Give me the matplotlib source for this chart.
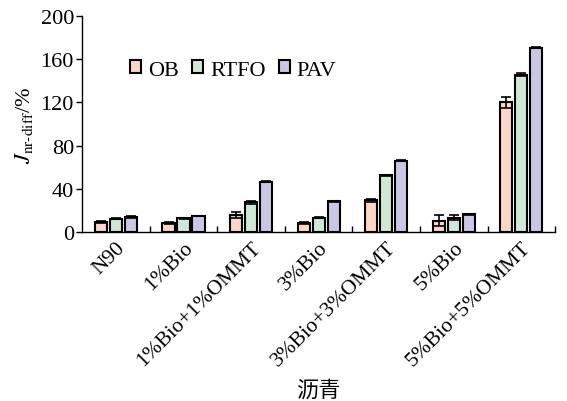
import matplotlib
matplotlib.use('Agg')
import matplotlib.pyplot as plt
import numpy as np

plt.rcParams['font.family'] = ['Liberation Serif', 'Noto Sans CJK SC']
plt.rcParams['mathtext.fontset'] = 'stix'

# data
groups = ['N90', '1%Bio', '1%Bio+1%OMMT', '3%Bio', '3%Bio+3%OMMT',
          '5%Bio', '5%Bio+5%OMMT']
series = ['OB', 'RTFO', 'PAV']
ob = [9.5, 8.5, 16, 8.5, 29.5, 10.5, 120]
ob_err = [1, 0.5, 3, 0.5, 1.5, 5, 5]
rtfo = [12.5, 13, 27.5, 13.5, 52.5, 13.5, 145.5]
rtfo_err = [0.5, 0.5, 1, 0.5, 0.5, 2.5, 1.5]
pav = [14, 15, 46.5, 28.5, 66, 16.5, 170.5]
pav_err = [0.5, 0.3, 0.5, 0.3, 0.3, 0.3, 0.5]
colors = ['#FBD5C5', '#CFE8D5', '#C9C7E3']

fig = plt.figure(figsize=(5.67, 4.02), dpi=100)
ax = fig.add_axes([0.145, 0.42, 0.834, 0.538])

x = np.arange(len(groups))
w = 0.18
step = 0.222
for i, (vals, errs) in enumerate(zip([ob, rtfo, pav], [ob_err, rtfo_err, pav_err])):
    ax.bar(x + (i - 1) * step, vals, width=w, color=colors[i], edgecolor='black',
           linewidth=1.5, label=series[i], yerr=errs, zorder=2,
           error_kw=dict(ecolor='black', elinewidth=1.2, capsize=3.5, capthick=1.2))

ax.set_xlim(-0.5, len(groups) - 0.5)
ax.set_ylim(0, 200)
ax.set_yticks([0, 40, 80, 120, 160, 200])
ax.tick_params(axis='y', direction='out', length=4, width=1, labelsize=16, pad=2)
ax.set_xticks(x)
ax.set_xticklabels(groups, rotation=45, ha='right', rotation_mode='anchor', fontsize=15.5)
ax.tick_params(axis='x', length=0, pad=4)
ax.set_xticks(np.arange(0.5, len(groups) - 0.5 + 0.01, 1.0), minor=True)
ax.tick_params(axis='x', which='minor', direction='in', length=4, width=1)
ax.spines['top'].set_visible(False)
ax.spines['right'].set_visible(False)
ax.spines['left'].set_linewidth(1)
ax.spines['bottom'].set_linewidth(1)

ax.set_ylabel(r'$J_{\mathrm{nr\text{-}diff}}$/%', fontsize=16, labelpad=4)
ax.set_xlabel('沥青', fontsize=16, family=['Noto Sans CJK SC'], labelpad=6)

ax.legend(loc='center left', bbox_to_anchor=(0.083, 0.75), ncol=3, frameon=False,
          fontsize=16, handlelength=0.5, handleheight=0.5, handletextpad=0.3,
          columnspacing=0.6, borderaxespad=0)

fig.savefig('out.png', dpi=100)
